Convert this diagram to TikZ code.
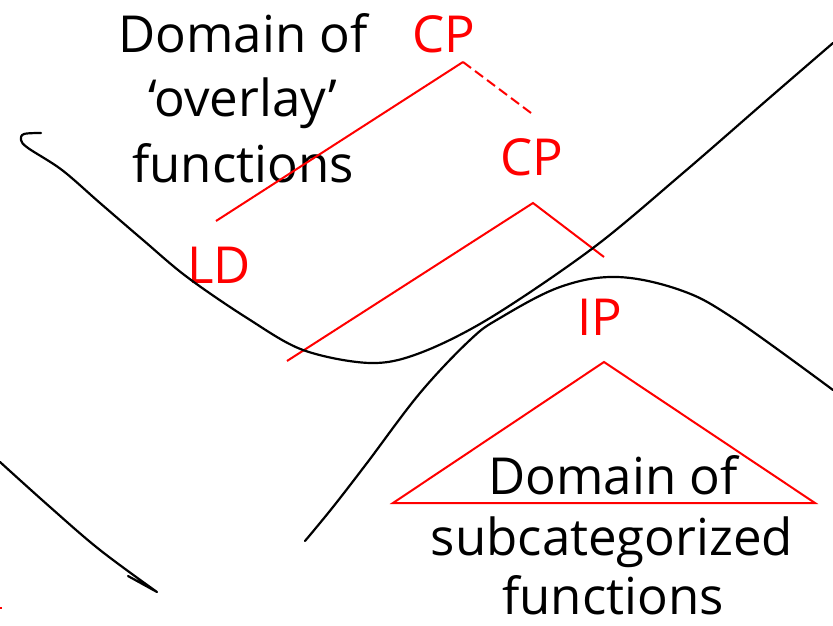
\documentclass[tikz,border=0pt]{standalone}
\usepackage{fontspec}
\setmainfont{Open Sans}
\begin{document}
\begin{tikzpicture}[x=1pt,y=-1pt,
  curve/.style={line width=2.2pt, line cap=round, line join=round},
  branch/.style={red, line width=2pt},
  label/.style={font=\fontsize{51}{60}\selectfont, inner sep=0pt, anchor=base, text depth=0pt},
  cat/.style={label, text=red}]
\useasboundingbox (0,0) rectangle (833,626);

% text labels
\node[label] (ovA) at (243,53) {Domain of};
\node[label] (ovB) at (243,117) {‘overlay’};
\node[label] (ovC) at (243,182) {functions};
\node[cat] (cp1) at (444,53) {CP};
\node[cat] (cp2) at (532,175) {CP};
\node[cat] (ld) at (219,283) {LD};
\node[cat] (ip) at (600,335) {IP};
\node[label] (scA) at (613,494) {Domain of};
\node[label] (scB) at (612,555) {subcategorized};
\node[label] (scC) at (613,614) {functions};

% tree geometry
\coordinate (cp1top) at (463,62);
\coordinate (ldtop) at (216,221);
\coordinate (cp2dash) at (531,113);
\coordinate (cp2top) at (533,203);
\coordinate (lowL) at (287,361);
\coordinate (lowR) at (604,257);
\coordinate (iptop) at (604,362);
\coordinate (baseL) at (393,503);
\coordinate (baseR) at (815,503);

\draw[branch] (ldtop) -- (cp1top);
\draw[branch, dash pattern=on 10pt off 5pt] (cp1top) -- (cp2dash);
\draw[branch] (lowL) -- (cp2top) -- (lowR);
\draw[branch, line join=miter] (baseL) -- (iptop) -- (baseR) -- cycle;

% freehand boundary curves
\draw[curve] plot[smooth, tension=0.55] coordinates {(41,133) (24,134) (21,140) (28,148) (62,170) (100,203) (143,240) (187,277) (247,318) (303,350) (370,363) (420,353) (490,318) (593,248) (683,173) (767,100) (833,43)};
\draw[curve] plot[smooth, tension=0.6] coordinates {(305,541) (333,507) (367,463) (420,393) (470,340) (500,318) (560,287) (617,277) (680,290) (733,318) (833,390)};
\draw[curve] plot[smooth, tension=0.6] coordinates {(0,462) (50,507) (100,550) (157,592)} -- (128,576);
\draw[red, line width=2pt] (0,608) -- (2,608);
\end{tikzpicture}
\end{document}
